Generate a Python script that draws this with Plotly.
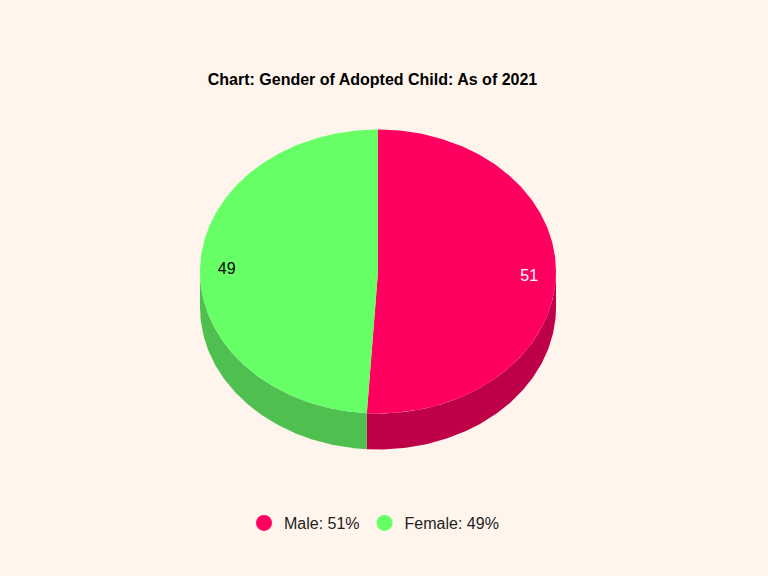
import numpy as np
import plotly.graph_objects as go

categories = ["Male", "Female"]
values = [51, 49]
top_colors = ["#FF0060", "#66FF66"]
side_colors = ["#BE0048", "#4FBF4F"]
label_colors = ["#FFFFFF", "#000000"]
label_angles = [91.8, 271.4]  # degrees clockwise from 12 o'clock

# pie geometry in page pixels, the axes below run 0-768 and 576-0
cx, cy = 378, 271.5
rx, ry = 178, 142
depth = 36
bg = "#FFF5EC"


def rim(angles, drop=0):
    a = np.radians(angles)
    return cx + rx * np.sin(a), cy - ry * np.cos(a) + drop


fig = go.Figure()

# slice boundaries from the values
total = sum(values)
edges = np.cumsum([0] + values) / total * 360

# side wall first so the top covers it
for i, name in enumerate(categories):
    start = max(edges[i], 90)
    end = min(edges[i + 1], 270)
    t = np.linspace(start, end, 120)
    x1, y1 = rim(t)
    x2, y2 = rim(t[::-1], depth)
    fig.add_trace(go.Scatter(
        x=np.concatenate([x1, x2]), y=np.concatenate([y1, y2]),
        fill="toself", fillcolor=side_colors[i], mode="lines",
        line=dict(width=0), showlegend=False, hoverinfo="skip"))

# top face
for i, name in enumerate(categories):
    t = np.linspace(edges[i], edges[i + 1], 240)
    x1, y1 = rim(t)
    fig.add_trace(go.Scatter(
        x=np.concatenate([[cx], x1, [cx]]), y=np.concatenate([[cy], y1, [cy]]),
        fill="toself", fillcolor=top_colors[i], mode="lines",
        line=dict(width=0), showlegend=False,
        name=name, hoverinfo="name"))

# value labels
lx, ly = rim(label_angles)
lx = cx + (lx - cx) * 0.85
ly = cy + (ly - cy) * 0.85 + 1.5
fig.add_trace(go.Scatter(
    x=lx, y=ly, text=[str(v) for v in values], mode="text",
    textposition="middle center",
    textfont=dict(family="Liberation Sans", size=16, color=label_colors),
    showlegend=False, hoverinfo="skip"))

# legend entries
for i, name in enumerate(categories):
    fig.add_trace(go.Scatter(
        x=[None], y=[None], mode="markers",
        marker=dict(size=16, color=top_colors[i]),
        name=f"{name}: {values[i]}%"))

fig.update_layout(
    width=768, height=576,
    margin=dict(l=0, r=0, t=0, b=0),
    paper_bgcolor=bg, plot_bgcolor=bg,
    title=dict(text="<b>Chart: Gender of Adopted Child: As of 2021</b>",
               x=372.5 / 768, y=1 - 79 / 576, xanchor="center", yanchor="middle",
               font=dict(family="Liberation Sans", size=16, color="#000000")),
    legend=dict(orientation="h", x=244 / 768, y=1 - 523 / 576,
                xanchor="left", yanchor="middle", bgcolor="rgba(0,0,0,0)",
                font=dict(family="Liberation Sans", size=16, color="#222222")),
    xaxis=dict(range=[0, 768], visible=False, fixedrange=True),
    yaxis=dict(range=[576, 0], visible=False, fixedrange=True),
)

# drop the page margin so the chart fills the window
fig.write_html("out.html", config={"displayModeBar": False},
               post_script="document.body.style.margin='0';")
